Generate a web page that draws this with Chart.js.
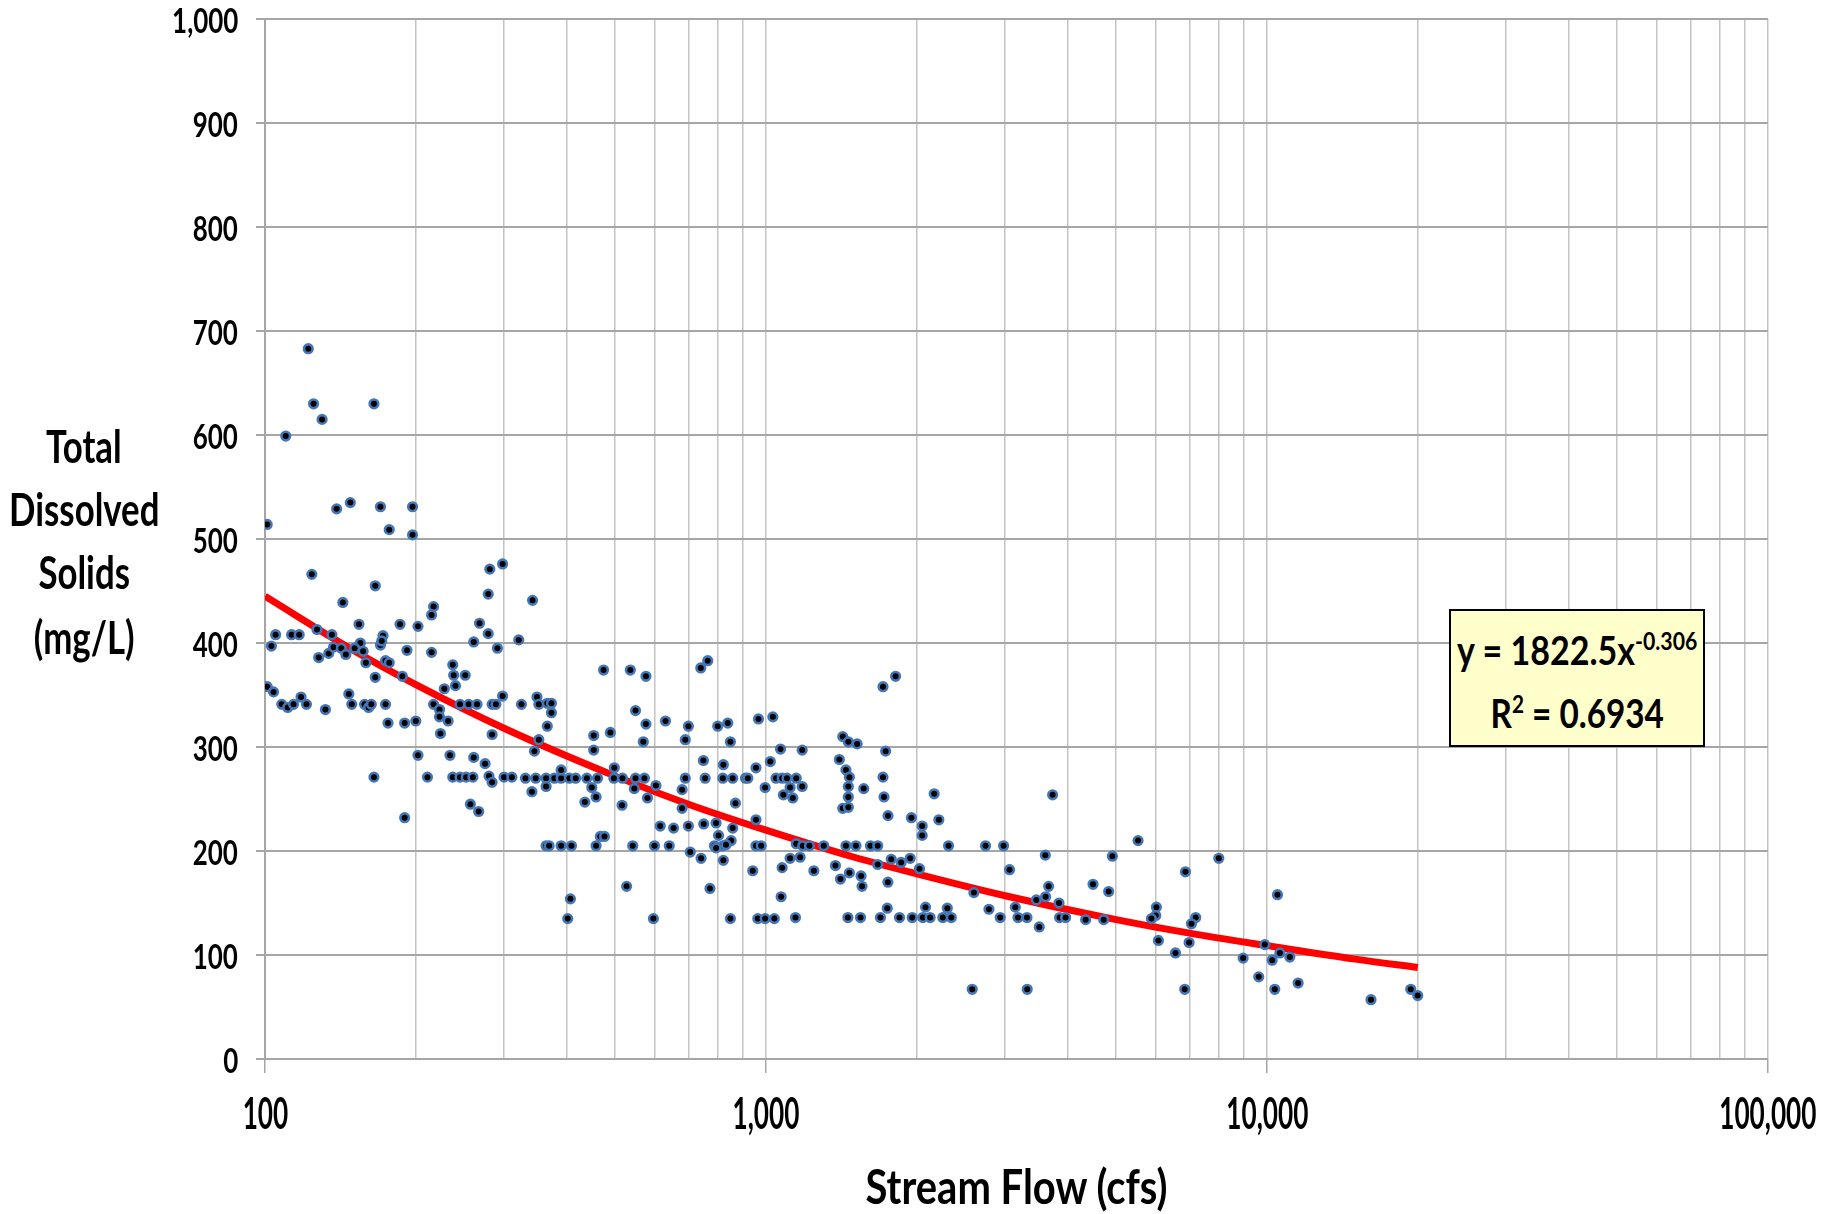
<!DOCTYPE html>
<html>
<head>
<meta charset="utf-8">
<title>TDS vs Stream Flow</title>
<script src="https://cdn.jsdelivr.net/npm/chart.js@4.4.1/dist/chart.umd.min.js"></script>
<style>
  html, body { margin: 0; padding: 0; background: #fff; }
  #wrap { position: relative; width: 1823px; height: 1214px; overflow: hidden; }
  #chart { position: absolute; left: 0; top: 0; }
  .lbl {
    position: absolute; display: block; white-space: nowrap;
    font-family: Lato, 'Open Sans', sans-serif; font-weight: bold; color: #000;
  }
  .sup { font-size: 25px; vertical-align: 15px; line-height: 0; }
  #eqbox {
    position: absolute; left: 1449px; top: 609px; width: 256px; height: 138px;
    box-sizing: border-box; border: 2px solid #000; background: #ffffcc;
  }
</style>
</head>
<body>
<div id="wrap">
  <canvas id="chart" width="1823" height="1214"></canvas>
  <div id="eqbox"></div>
</div>
<script>
const flowCfs = [
  122, 125, 130, 110, 165, 139, 148, 170, 197, 101,
  177, 197, 124, 166, 143, 281, 298, 279, 217, 215,
  105, 103, 113, 117, 127, 136, 154, 155, 186, 202,
  128, 134, 137, 142, 145, 151, 157, 159, 170, 172,
  171, 174, 177, 192, 166, 188, 215, 101, 104, 108,
  111, 114, 118, 121, 132, 147, 149, 158, 161, 163,
  174, 176, 190, 200, 217, 223, 223, 232, 224, 228,
  237, 238, 240, 251, 245, 255, 265, 284, 289, 298,
  284, 261, 268, 279, 291, 202, 234, 261, 165, 211,
  237, 245, 252, 260, 275, 280, 284, 300, 311, 257,
  267, 190, 342, 321, 474, 536, 576, 741, 765, 325,
  349, 352, 366, 373, 373, 366, 352, 345, 549, 576,
  569, 630, 700, 690, 801, 839, 849, 966, 1032, 1069,
  453, 453, 489, 750, 822, 955, 1020, 331, 347, 364,
  378, 390, 405, 417, 439, 461, 497, 517, 549, 572,
  690, 756, 820, 858, 910, 920, 1047, 1077, 1101, 1149,
  390, 341, 364, 449, 458, 435, 498, 516, 546, 580,
  603, 680, 680, 869, 996, 1083, 1117, 1131, 955, 615,
  654, 700, 751, 795, 858, 804, 852, 467, 476, 458,
  364, 369, 390, 409, 542, 599, 641, 789, 820, 955,
  978, 706, 742, 795, 832, 1117, 1149, 1712, 1814, 1423,
  1460, 1520, 1733, 1181, 1401, 1444, 1467, 1460, 1460, 1423,
  1460, 1181, 1567, 1712, 1720, 1752, 1951, 2050, 2050, 2166,
  2213, 3733, 1184, 1221, 1304, 1444, 1512, 1616, 1671, 2314,
  2743, 2980, 1170, 1077, 1246, 1376, 1408, 1467, 1548, 1555,
  1671, 1778, 1861, 1940, 2025, 1751, 1072, 1746, 2082, 2301,
  2600, 2786, 3063, 3610, 3666, 3615, 3464, 3145, 3844, 1145,
  1457, 1544, 1692, 1847, 1958, 2056, 2126, 2254, 2343, 2934,
  3184, 3318, 3855, 3963, 5529, 4913, 8013, 6874, 4495, 4830,
  10494, 4345, 4721, 6015, 5997, 5878, 7207, 7066, 6071, 6991,
  6566, 8960, 9900, 10240, 10608, 11106, 822, 941, 527, 407,
  402, 596, 773, 849, 963, 996, 1039, 3511, 2580, 3322,
  6851, 9627, 10363, 11538, 16127, 19360, 19990
];
const tdsMgL = [
  683, 630, 615, 599, 630, 529, 535, 531, 531, 514,
  509, 504, 466, 455, 439, 471, 476, 447, 435, 427,
  408, 397, 408, 408, 413, 408, 418, 400, 418, 416,
  386, 390, 396, 395, 389, 395, 392, 381, 398, 407,
  402, 383, 381, 393, 367, 368, 391, 358, 353, 341,
  338, 341, 348, 341, 336, 351, 341, 341, 338, 341,
  341, 323, 323, 325, 341, 336, 329, 325, 313, 356,
  379, 369, 359, 369, 341, 341, 341, 341, 341, 349,
  312, 401, 419, 409, 395, 292, 292, 290, 271, 271,
  271, 271, 271, 271, 284, 272, 266, 271, 271, 245,
  238, 232, 441, 403, 374, 374, 368, 376, 383, 341,
  348, 341, 342, 342, 333, 320, 307, 296, 335, 322,
  305, 325, 320, 307, 320, 323, 305, 327, 329, 298,
  311, 297, 314, 287, 283, 280, 286, 270, 270, 270,
  270, 270, 270, 270, 270, 270, 270, 270, 270, 270,
  270, 270, 270, 270, 270, 270, 270, 270, 270, 270,
  278, 257, 262, 261, 252, 247, 280, 244, 260, 251,
  263, 259, 241, 246, 261, 254, 261, 251, 230, 224,
  222, 224, 226, 227, 222, 215, 210, 214, 214, 205,
  205, 205, 205, 205, 205, 205, 205, 205, 205, 205,
  205, 199, 193, 203, 206, 193, 207, 358, 368, 310,
  305, 303, 296, 297, 288, 278, 271, 262, 252, 241,
  242, 262, 260, 271, 252, 234, 232, 224, 215, 255,
  230, 254, 205, 205, 205, 205, 205, 205, 205, 205,
  205, 205, 194, 184, 181, 186, 173, 179, 176, 166,
  187, 192, 189, 193, 183, 170, 156, 145, 146, 145,
  160, 144, 182, 196, 166, 156, 153, 146, 150, 136,
  136, 136, 136, 136, 136, 136, 136, 136, 136, 136,
  136, 136, 136, 136, 210, 195, 193, 180, 168, 161,
  158, 134, 134, 146, 138, 135, 136, 130, 114, 112,
  102, 97, 110, 95, 102, 98, 191, 181, 166, 154,
  135, 135, 164, 135, 135, 135, 135, 127, 67, 67,
  67, 79, 67, 73, 57, 67, 61
];

// red power trendline
const trendFlow = [100, 150, 200, 300, 500, 700, 1000, 1500, 2000, 3000, 5000, 7000, 10000, 15000, 20000];
const trendTds = [445, 393, 360, 318, 272, 245, 220, 194, 178, 157, 134, 121, 109, 96, 88];

const xTickLabels = [100, 1000, 10000, 100000];
const yTitleLines = ['Total', 'Dissolved', 'Solids', '(mg/L)'];
const xTitle = 'Stream Flow (cfs)';
const eqLine = 'y = 1822.5x<span class="sup">-0.306</span>';
const r2Line = 'R<span class="sup">2</span> = 0.6934';

// gridlines at 1..9 of every decade
const xGrid = [];
xTickLabels.slice(0, -1).forEach(d => {
    for (let m = 1; m <= 9; m++) xGrid.push(m * d);
});
xGrid.push(100000);

const points = flowCfs.map((x, i) => ({ x, y: tdsMgL[i] }));
const trend = trendFlow.map((x, i) => ({ x, y: trendTds[i] }));

const chart = new Chart(document.getElementById('chart'), {
    type: 'scatter',
    data: {
        datasets: [
            {
                label: 'TDS',
                data: points,
                pointRadius: 4.3,
                pointBorderWidth: 2.6,
                pointBackgroundColor: '#000',
                pointBorderColor: '#4476b6',
                order: 0,
            },
            {
                type: 'line',
                label: 'Power trend',
                data: trend,
                borderColor: '#ff0000',
                borderWidth: 7,
                pointRadius: 0,
                cubicInterpolationMode: 'monotone',
                fill: false,
                order: 1,
            }
        ]
    },
    options: {
        responsive: false,
        animation: false,
        layout: { padding: { left: 0, right: 55, top: 19, bottom: 0 } },
        plugins: {
            legend: { display: false },
            tooltip: { enabled: false },
        },
        scales: {
            x: {
                type: 'logarithmic',
                min: 100,
                max: 100000,
                afterBuildTicks: s => { s.ticks = xGrid.map(v => ({ value: v })); },
                afterFit: s => { s.height = 155; },
                ticks: { display: false },
                grid: {
                    color: '#c4c4c4',
                    lineWidth: 1.5,
                    tickLength: 14,
                    tickColor: c => (c.tick && xTickLabels.includes(c.tick.value)) ? '#a6a6a6' : 'rgba(0,0,0,0)',
                },
                border: { display: false },
            },
            y: {
                min: 0,
                max: 1000,
                afterFit: s => { s.width = 265; },
                ticks: { stepSize: 100, display: false },
                grid: { color: '#a6a6a6', lineWidth: 2, tickLength: 9 },
                border: { color: '#a6a6a6', width: 2 },
            }
        }
    }
});

// condensed bold labels, placed from the chart's own scales
const wrap = document.getElementById('wrap');
function addText(html, o) {
    const el = document.createElement('span');
    el.className = 'lbl';
    el.innerHTML = html;
    el.style.fontSize = o.size + 'px';
    el.style.lineHeight = o.size + 'px';
    wrap.appendChild(el);
    const w = el.offsetWidth, h = el.offsetHeight;
    const s = o.scale || (o.width / w);
    if (o.align === 'right') {
        el.style.left = (o.x - w) + 'px';
        el.style.transformOrigin = '100% 50%';
    } else {
        el.style.left = (o.x - w / 2) + 'px';
        el.style.transformOrigin = '50% 50%';
    }
    el.style.top = (o.y - h / 2) + 'px';
    el.style.transform = 'scaleX(' + s + ')';
    return s;
}

const xs = chart.scales.x, ys = chart.scales.y;
const fmt = v => v.toLocaleString('en-US');

// y ticks
let sy = 0;
ys.ticks.slice().reverse().forEach(t => {
    sy = addText(fmt(t.value), { size: 35, x: 238, y: ys.getPixelForValue(t.value), align: 'right', scale: sy, width: 66 });
});

// x ticks
let sx = 0;
[1000, 100, 10000, 100000].forEach(v => {
    sx = addText(fmt(v), { size: 43, x: xs.getPixelForValue(v), y: 1112, scale: sx, width: 67 });
});

// axis titles
addText(xTitle, { size: 47, x: (chart.chartArea.left + chart.chartArea.right) / 2, y: 1186, width: 302 });
const tw = [73, 150, 90, 103];
const ty = [446, 509, 572, 637];
let st = 0;
[1, 0, 2, 3].forEach(i => {
    st = addText(yTitleLines[i], { size: 45, x: 84, y: ty[i], scale: st, width: tw[i] });
});

// trendline equation box
addText(eqLine, { size: 40, x: 1577, y: 650, width: 240 });
addText(r2Line, { size: 40, x: 1577, y: 713, width: 173 });
</script>
</body>
</html>
